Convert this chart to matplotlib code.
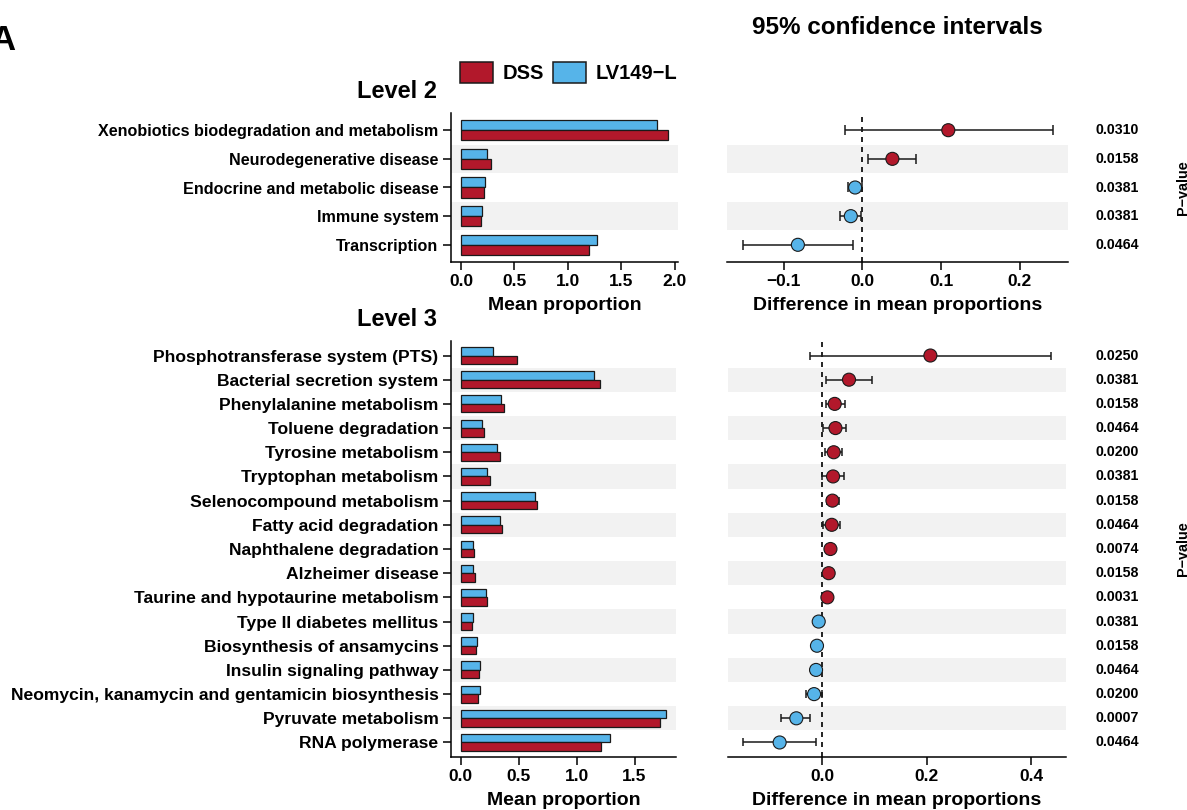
import matplotlib
matplotlib.use("Agg")
import matplotlib.pyplot as plt
from matplotlib.patches import Patch
from matplotlib.transforms import blended_transform_factory
import numpy as np

plt.rcParams["font.family"] = ["Liberation Sans", "DejaVu Sans"]
plt.rcParams["font.weight"] = "bold"

# ---- Level 2 pathways ----
l2_pathways = ["Xenobiotics biodegradation and metabolism", "Neurodegenerative disease",
               "Endocrine and metabolic disease", "Immune system", "Transcription"]
l2_dss = [1.94, 0.28, 0.215, 0.19, 1.195]
l2_lv = [1.83, 0.24, 0.225, 0.20, 1.275]
l2_diff = [0.109, 0.038, -0.0093, -0.0148, -0.082]
l2_lo = [-0.022, 0.0069, -0.0178, -0.028, -0.152]
l2_hi = [0.242, 0.068, -0.001, -0.0017, -0.012]
l2_p = ["0.0310", "0.0158", "0.0381", "0.0381", "0.0464"]

# ---- Level 3 pathways ----
l3_pathways = ["Phosphotransferase system (PTS)", "Bacterial secretion system",
               "Phenylalanine metabolism", "Toluene degradation", "Tyrosine metabolism",
               "Tryptophan metabolism", "Selenocompound metabolism", "Fatty acid degradation",
               "Naphthalene degradation", "Alzheimer disease", "Taurine and hypotaurine metabolism",
               "Type II diabetes mellitus", "Biosynthesis of ansamycins",
               "Insulin signaling pathway", "Neomycin, kanamycin and gentamicin biosynthesis",
               "Pyruvate metabolism", "RNA polymerase"]
l3_dss = [0.487, 1.204, 0.371, 0.204, 0.337, 0.25, 0.66, 0.357, 0.118, 0.121,
          0.225, 0.10, 0.132, 0.155, 0.15, 1.722, 1.21]
l3_lv = [0.282, 1.152, 0.348, 0.181, 0.317, 0.23, 0.64, 0.34, 0.104, 0.109,
         0.216, 0.109, 0.143, 0.17, 0.167, 1.774, 1.29]
l3_diff = [0.207, 0.051, 0.0236, 0.025, 0.0217, 0.0204, 0.0192, 0.0179, 0.0154, 0.012,
           0.0096, -0.0071, -0.0104, -0.0122, -0.016, -0.050, -0.082]
l3_lo = [-0.023, 0.0064, 0.0064, 0.0013, 0.0058, -0.0006, 0.0096, 0.001, 0.009, 0.006,
         0.004, -0.012, -0.015, -0.0225, -0.0307, -0.079, -0.152]
l3_hi = [0.438, 0.095, 0.043, 0.0448, 0.038, 0.041, 0.0326, 0.034, 0.020, 0.018,
         0.015, 0.0, -0.005, -0.002, -0.0008, -0.0244, -0.0115]
l3_p = ["0.0250", "0.0381", "0.0158", "0.0464", "0.0200", "0.0381", "0.0158", "0.0464",
        "0.0074", "0.0158", "0.0031", "0.0381", "0.0158", "0.0464", "0.0200", "0.0007",
        "0.0464"]

groups = ["DSS", "LV149\u2212L"]
RED = "#B2182B"
BLUE = "#56B4E9"
BAND = "#F2F2F2"

W, H = 1187, 810
fig = plt.figure(figsize=(W / 100, H / 100), dpi=100)


def fx(px):
    return px / W


def fy(py):
    return 1 - py / H


def style_axis(ax, left_spine):
    for s in ["top", "right"]:
        ax.spines[s].set_visible(False)
    if not left_spine:
        ax.spines["left"].set_visible(False)
        ax.tick_params(axis="y", left=False, labelleft=False)
    for s in ["left", "bottom"]:
        ax.spines[s].set_linewidth(1.1)
    ax.tick_params(axis="both", length=5.5, width=1.1, pad=3)
    ax.tick_params(axis="x", labelsize=12.5)
    ax.tick_params(axis="y", pad=3.5)
    for lab in ax.get_xticklabels():
        lab.set_fontweight("bold")


def draw_level(rows_px, bar_box, ci_box, names, dss, lv, diff, lo, hi, pvals,
               bar_xlim, bar_ticks, ci_xlim, ci_ticks, capsize, label_size):
    n = len(names)
    y = np.arange(n)
    top_px, bot_px = rows_px
    bottom, height = fy(bot_px), (bot_px - top_px) / H

    # mean proportion bars
    axb = fig.add_axes([fx(bar_box[0]), bottom, fx(bar_box[1] - bar_box[0]), height])
    for i in y:
        if i % 2 == 1:
            axb.axhspan(i - 0.5, i + 0.5, color=BAND, zorder=0, lw=0)
    bh = 0.35
    axb.barh(y - bh / 2, lv, height=bh, color=BLUE, edgecolor="#1a1a1a", lw=0.9, zorder=2)
    axb.barh(y + bh / 2, dss, height=bh, color=RED, edgecolor="#1a1a1a", lw=0.9, zorder=2)
    axb.set_ylim(n - 0.4, -0.6)
    axb.set_xlim(*bar_xlim)
    axb.set_xticks(bar_ticks)
    axb.set_xticklabels([f"{t:.1f}" for t in bar_ticks])
    axb.set_yticks(y)
    axb.set_yticklabels(names, fontsize=label_size, fontweight="bold")
    axb.set_xlabel("Mean proportion", fontsize=14, fontweight="bold", labelpad=6)
    style_axis(axb, True)

    # difference with 95% confidence interval
    axc = fig.add_axes([fx(ci_box[0]), bottom, fx(ci_box[1] - ci_box[0]), height])
    for i in y:
        if i % 2 == 1:
            axc.axhspan(i - 0.5, i + 0.5, color=BAND, zorder=0, lw=0)
    axc.axvline(0, color="black", ls=(0, (3, 3)), lw=1.2, zorder=1)
    d = np.array(diff)
    err = np.vstack([d - np.array(lo), np.array(hi) - d])
    axc.errorbar(d, y, xerr=err, fmt="none", ecolor="#1a1a1a", elinewidth=1.1,
                 capsize=capsize, capthick=1.1, zorder=2)
    cols = [RED if v > 0 else BLUE for v in diff]
    axc.scatter(d, y, s=88, c=cols, edgecolors="#1a1a1a", linewidths=0.8, zorder=3)
    axc.set_ylim(n - 0.4, -0.6)
    axc.set_xlim(*ci_xlim)
    axc.set_xticks(ci_ticks)
    axc.set_xticklabels([f"{t:.1f}".replace("-", "\u2212") for t in ci_ticks])
    axc.set_xlabel("Difference in mean proportions", fontsize=14, fontweight="bold",
                   labelpad=6)
    style_axis(axc, False)

    tr = blended_transform_factory(fig.transFigure, axc.transData)
    for i, p in enumerate(pvals):
        axc.text(fx(1096), i, p, transform=tr, ha="left", va="center",
                 fontsize=10.2, fontweight="bold")
    axc.text(fx(1183), (n - 1) / 2, "P\u2212value", transform=tr, rotation=90,
             ha="center", va="center", fontsize=10.4, fontweight="bold", clip_on=False)
    return axb, axc


draw_level((113, 262), (451, 678), (727, 1068), l2_pathways, l2_dss, l2_lv, l2_diff,
           l2_lo, l2_hi, l2_p, (-0.093, 2.03), [0.0, 0.5, 1.0, 1.5, 2.0],
           (-0.172, 0.261), [-0.1, 0.0, 0.1, 0.2], 3.6, 11.6)
draw_level((341, 757), (451, 676), (728, 1066), l3_pathways, l3_dss, l3_lv, l3_diff,
           l3_lo, l3_hi, l3_p, (-0.084, 1.858), [0.0, 0.5, 1.0, 1.5],
           (-0.181, 0.467), [0.0, 0.2, 0.4], 3.2, 12.6)

fig.text(fx(437), fy(92), "Level 2", ha="right", va="center", fontsize=17, fontweight="bold")
fig.text(fx(437), fy(320), "Level 3", ha="right", va="center", fontsize=17, fontweight="bold")
fig.text(fx(897), fy(27), "95% confidence intervals", ha="center", va="center",
         fontsize=17.5, fontweight="bold")
fig.text(fx(-10), fy(50), "A", ha="left", va="baseline", fontsize=25, fontweight="bold")

handles = [Patch(facecolor=RED, edgecolor="#1a1a1a", lw=1.1),
           Patch(facecolor=BLUE, edgecolor="#1a1a1a", lw=1.1)]
fig.legend(handles, groups, loc="center left", bbox_to_anchor=(fx(460), fy(72.5)),
           ncol=2, frameon=False, borderpad=0, borderaxespad=0,
           prop={"size": 14.5, "weight": "bold"}, handlelength=1.64, handleheight=1.24,
           handletextpad=0.5, columnspacing=0.4)

fig.savefig("out.png", dpi=100)
